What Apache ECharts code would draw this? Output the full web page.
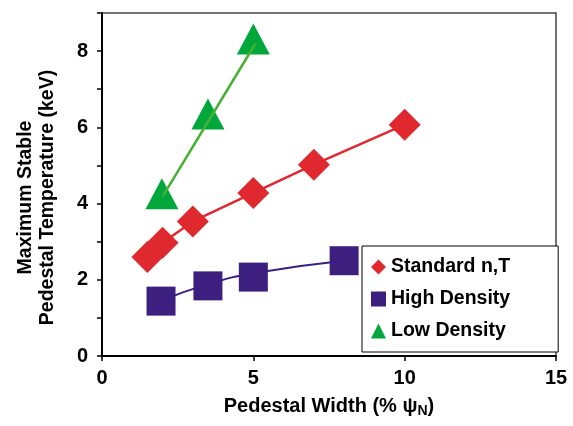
<!DOCTYPE html>
<html>
<head>
<meta charset="utf-8">
<script src="https://cdn.jsdelivr.net/npm/echarts@6/dist/echarts.min.js"></script>
<style>
  html, body { margin: 0; padding: 0; background: #fff; }
  #main { width: 573px; height: 426px; }
</style>
</head>
<body>
<div id="main"></div>
<script>
// measured points, [pedestal width, max temperature]
let standardPts = [[1.5, 2.6], [2.0, 2.97], [3.0, 3.53], [5.0, 4.28], [7.0, 5.02], [10.0, 6.07]];
let highDensityPts = [[1.95, 1.44], [3.5, 1.84], [5.0, 2.07], [8.0, 2.5]];
let lowDensityPts = [[1.98, 4.26], [3.5, 6.35], [5.0, 8.32]];

// fitted lines as drawn in the figure
let highDensityFit = [[1.95, 1.45], [3.4, 1.86], [5.0, 2.17], [8.0, 2.5]];
let lowDensityFit = [[2.0, 4.18], [5.07, 8.2]];

let seriesNames = ['Standard n,T', 'High Density', 'Low Density'];
let xTicks = [0, 5, 10, 15];
let yTickLabels = [0, 2, 4, 6, 8];

let FONT = '"Liberation Sans", Arial, Helvetica, sans-serif';
let RED = '#e0282f', NAVY = '#3c1f7e', GREEN = '#00a83c', GREEN_LINE = '#46b033';

let myChart = echarts.init(document.getElementById('main'));

let option = {
    animation: false,
    backgroundColor: '#fff',
    textStyle: { fontFamily: FONT },
    grid: {
        left: 102, right: 17, top: 13, bottom: 70,
        outerBoundsMode: 'none',
        show: true,
        borderColor: '#444',
        borderWidth: 1.5
    },
    legend: {
        orient: 'vertical',
        left: 362,
        top: 246,
        padding: [8, 48, 8, 9],
        itemGap: 6,
        itemWidth: 15,
        itemHeight: 15,
        backgroundColor: '#fff',
        borderColor: '#000',
        borderWidth: 1,
        borderRadius: 0,
        textStyle: { fontFamily: FONT, fontSize: 19.5, fontWeight: 'bold', color: '#000', lineHeight: 26 },
        data: [
            { name: seriesNames[0], icon: 'diamond' },
            { name: seriesNames[1], icon: 'rect' },
            { name: seriesNames[2], icon: 'triangle' }
        ]
    },
    xAxis: {
        type: 'value',
        min: xTicks[0],
        max: xTicks[xTicks.length - 1],
        interval: 5,
        splitLine: { show: false },
        axisLine: { lineStyle: { color: '#000', width: 2 } },
        axisTick: { length: 5, lineStyle: { color: '#000', width: 1.5 } },
        axisLabel: { color: '#000', fontSize: 20, fontWeight: 'bold', margin: 12, fontFamily: FONT },
        name: 'Pedestal Width (% ψ{s|N})',
        nameLocation: 'middle',
        nameGap: 38,
        nameTextStyle: {
            color: '#000', fontSize: 20, fontWeight: 'bold', fontFamily: FONT,
            rich: { s: { fontSize: 14, fontWeight: 'bold', fontFamily: FONT, color: '#000', padding: [10, 0, 0, 0] } }
        }
    },
    yAxis: {
        type: 'value',
        min: 0,
        max: 9,
        interval: 1,
        splitLine: { show: false },
        axisLine: { lineStyle: { color: '#000', width: 2 } },
        axisTick: { length: 5, lineStyle: { color: '#000', width: 1.5 } },
        axisLabel: {
            color: '#000', fontSize: 20, fontWeight: 'bold', margin: 14, fontFamily: FONT,
            formatter: function (v) { return yTickLabels.indexOf(v) >= 0 ? String(v) : ''; }
        },
        name: 'Maximum Stable\nPedestal Temperature (keV)',
        nameLocation: 'middle',
        nameGap: 43,
        nameRotate: 90,
        nameTextStyle: {
            color: '#000', fontSize: 19.5, fontWeight: 'bold', fontFamily: FONT,
            lineHeight: 22, padding: [0, 26, 0, 0]
        }
    },
    series: [
        {
            name: seriesNames[0],
            type: 'scatter',
            data: standardPts,
            symbol: 'diamond',
            symbolSize: 32,
            itemStyle: { color: RED, opacity: 1 },
            z: 2
        },
        {
            name: seriesNames[1],
            type: 'scatter',
            data: highDensityPts,
            symbol: 'rect',
            symbolSize: 29,
            itemStyle: { color: NAVY, opacity: 1 },
            z: 2
        },
        {
            name: seriesNames[2],
            type: 'scatter',
            data: lowDensityPts,
            symbol: 'triangle',
            symbolSize: [33, 31],
            itemStyle: { color: GREEN, opacity: 1 },
            z: 2
        },
        {
            type: 'line',
            data: standardPts,
            symbol: 'none',
            lineStyle: { color: RED, width: 2.5 },
            z: 3
        },
        {
            type: 'line',
            data: highDensityFit,
            smooth: true,
            symbol: 'none',
            lineStyle: { color: NAVY, width: 2 },
            z: 3
        },
        {
            type: 'line',
            data: lowDensityFit,
            symbol: 'none',
            lineStyle: { color: GREEN_LINE, width: 2.5 },
            z: 3
        }
    ]
};

myChart.setOption(option);
</script>
</body>
</html>
